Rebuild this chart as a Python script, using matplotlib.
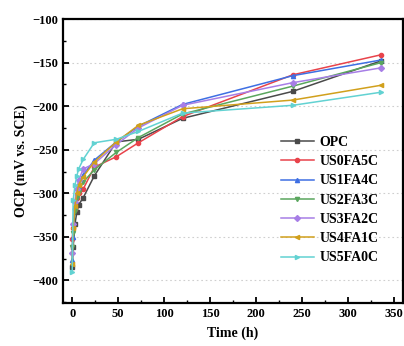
import matplotlib
matplotlib.use("Agg")
import matplotlib.pyplot as plt
from matplotlib.ticker import MultipleLocator

time_h = [0, 1, 3, 5, 7, 12, 24, 48, 72, 120, 240, 336]

series_names = ["OPC", "US0FA5C", "US1FA4C", "US2FA3C", "US3FA2C", "US4FA1C", "US5FA0C"]
opc      = [-385, -362, -335, -322, -313, -305, -280, -241, -238, -214, -183, -148]
us0fa5c  = [-352, -340, -318, -305, -300, -295, -270, -258, -242, -212, -164, -141]
us1fa4c  = [-376, -350, -315, -300, -292, -279, -262, -241, -223, -198, -165, -147]
us2fa3c  = [-362, -345, -320, -305, -298, -287, -273, -253, -236, -209, -177, -150]
us3fa2c  = [-369, -335, -310, -295, -285, -272, -266, -244, -225, -199, -173, -156]
us4fa1c  = [-381, -340, -315, -300, -290, -281, -264, -241, -222, -203, -193, -176]
us5fa0c  = [-390, -308, -291, -280, -272, -261, -242, -238, -229, -208, -199, -184]

values = [opc, us0fa5c, us1fa4c, us2fa3c, us3fa2c, us4fa1c, us5fa0c]
colors = ["#4a4a4a", "#e8434b", "#3e6fe3", "#5aa65e", "#a77ee6", "#d1a01c", "#62d2d2"]
markers = ["s", "o", "^", "v", "D", "<", ">"]

plt.rcParams['font.family'] = ['Liberation Serif', 'DejaVu Serif']
plt.rcParams['font.weight'] = 'bold'

fig = plt.figure(figsize=(4.04, 3.46), dpi=100)
ax = fig.add_axes([0.156, 0.124, 0.842, 0.821])

for name, vals, c, m in zip(series_names, values, colors, markers):
    ax.plot(time_h, vals, color=c, marker=m, markersize=3, linewidth=1.1, label=name)

ax.set_xlim(-10, 360)
ax.set_ylim(-426, -100)
ax.xaxis.set_major_locator(MultipleLocator(50))
ax.xaxis.set_minor_locator(MultipleLocator(25))
ax.yaxis.set_major_locator(MultipleLocator(50))
ax.yaxis.set_minor_locator(MultipleLocator(25))
ax.yaxis.grid(True, which='major', linestyle=(0, (1.5, 2.5)), color='#cfcfcf', linewidth=0.8)
ax.set_axisbelow(True)

ax.tick_params(which='major', direction='in', length=4, width=1.3, labelsize=9)
ax.tick_params(which='minor', direction='in', length=2, width=1.0)
ax.tick_params(top=False, right=False, which='both')
for lab in ax.get_xticklabels() + ax.get_yticklabels():
    lab.set_fontweight('bold')
for s in ax.spines.values():
    s.set_linewidth(1.6)

ax.set_xlabel("Time (h)", fontsize=10, fontweight='bold', labelpad=5)
ax.set_ylabel("OCP (mV vs. SCE)", fontsize=10, fontweight='bold', labelpad=3)

leg = ax.legend(loc='lower right', bbox_to_anchor=(0.965, 0.092), frameon=False,
                handlelength=2.4, handletextpad=0.4, labelspacing=0.45,
                prop={'weight': 'bold', 'size': 10})

fig.savefig("out.png", dpi=100)
